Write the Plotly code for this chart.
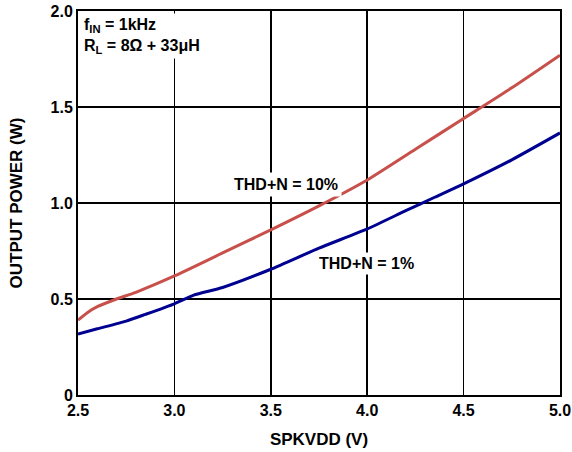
import plotly.graph_objects as go

vdd_10 = [2.5, 2.55, 2.6, 2.7, 2.8, 3.0, 3.25, 3.5, 3.75, 4.0, 4.25, 4.5, 4.75, 5.0]
pout_10 = [0.39, 0.43, 0.46, 0.50, 0.535, 0.62, 0.74, 0.86, 0.985, 1.12, 1.28, 1.44, 1.60, 1.77]

vdd_1 = [2.5, 2.6, 2.75, 2.85, 3.0, 3.1, 3.25, 3.5, 3.75, 4.0, 4.2, 4.35, 4.5, 4.75, 5.0]
pout_1 = [0.318, 0.345, 0.385, 0.42, 0.475, 0.52, 0.56, 0.655, 0.765, 0.865, 0.96, 1.03, 1.10, 1.225, 1.365]

x_ticks = [2.5, 3.0, 3.5, 4.0, 4.5, 5.0]
y_ticks = [0, 0.5, 1.0, 1.5, 2.0]
y_ticktext = ["0", "0.5", "1.0", "1.5", "2.0"]

FONT = "Arial, Liberation Sans, sans-serif"

fig = go.Figure()
fig.add_trace(go.Scatter(x=vdd_10, y=pout_10, mode="lines",
                         line=dict(color="#C8504B", width=3, shape="spline", smoothing=0.6),
                         showlegend=False, hoverinfo="skip"))
fig.add_trace(go.Scatter(x=vdd_1, y=pout_1, mode="lines",
                         line=dict(color="#000090", width=3, shape="spline", smoothing=0.6),
                         showlegend=False, hoverinfo="skip"))

fig.add_annotation(x=2.5, y=2.0, xref="x", yref="y", xanchor="left", yanchor="top",
                   xshift=3, yshift=-2,
                   text="f<sub>IN</sub> = 1kHz<br>R<sub>L</sub> = 8Ω + 33μH",
                   showarrow=False, align="left", bgcolor="white", borderpad=2,
                   font=dict(family=FONT, size=16, color="black", weight="bold"))
fig.add_annotation(x=3.58, y=1.094, xref="x", yref="y",
                   text="THD+N = 10%", showarrow=False, bgcolor="white", borderpad=3,
                   font=dict(family=FONT, size=16, color="black", weight="bold"))
fig.add_annotation(x=3.995, y=0.685, xref="x", yref="y",
                   text="THD+N = 1%", showarrow=False, bgcolor="white", borderpad=2,
                   font=dict(family=FONT, size=16, color="black", weight="bold"))

fig.update_layout(
    width=572, height=452,
    margin=dict(l=78, r=12, t=11, b=57, autoexpand=False),
    paper_bgcolor="white", plot_bgcolor="white",
    font=dict(family=FONT, color="black"),
    hovermode=False,
)
fig.update_xaxes(range=[2.5, 5.0], tickvals=x_ticks, tickformat=".1f",
                 showgrid=True, gridcolor="black", gridwidth=1.5,
                 showline=True, linecolor="black", linewidth=2, mirror=True,
                 ticks="", zeroline=False, automargin=False, ticklabeloverflow="allow",
                 tickfont=dict(family=FONT, size=16, weight="bold"),
                 title=dict(text="SPKVDD (V)", standoff=15,
                            font=dict(family=FONT, size=17, weight="bold")))
fig.update_yaxes(range=[0, 2.0], tickvals=y_ticks, ticktext=y_ticktext,
                 showgrid=True, gridcolor="black", gridwidth=1.5,
                 showline=True, linecolor="black", linewidth=2, mirror=True,
                 ticks="", zeroline=False, automargin=False, ticklabeloverflow="allow",
                 tickfont=dict(family=FONT, size=16, weight="bold"),
                 title=dict(text="OUTPUT POWER (W)", standoff=24,
                            font=dict(family=FONT, size=17, weight="bold")))

fig.write_html("out.html", config={"displayModeBar": False, "staticPlot": True},
               post_script="document.body.style.margin='0px';document.body.style.overflow='hidden';")
